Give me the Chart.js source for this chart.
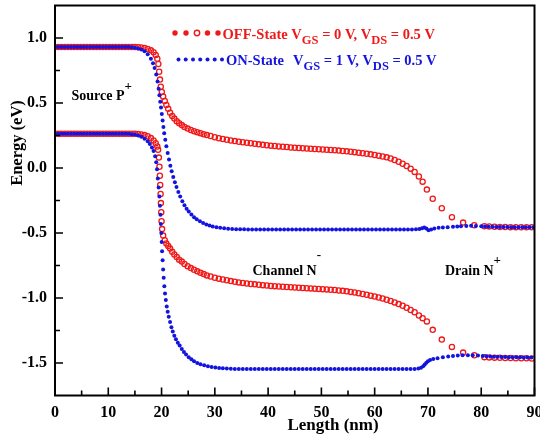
<!DOCTYPE html>
<html>
<head>
<meta charset="utf-8">
<script src="https://cdn.jsdelivr.net/npm/chart.js"></script>
<style>
  html, body { margin: 0; padding: 0; background: #fff; }
  #chart { display: block; }
</style>
</head>
<body>
<canvas id="chart" width="540" height="444"></canvas>
<script>
// [length (nm), energy (eV)]
const offCbPts = [
  [0,0.93],[0.6,0.93],[1.2,0.93],[1.8,0.93],[2.4,0.93],[3,0.93],[3.6,0.93],[4.2,0.93],[4.8,0.93],[5.4,0.93],
  [6,0.93],[6.6,0.93],[7.2,0.93],[7.8,0.93],[8.4,0.93],[9,0.93],[9.6,0.93],[10.2,0.93],[10.8,0.93],[11.4,0.93],
  [12,0.93],[12.6,0.93],[13.2,0.93],[13.8,0.93],[14.4,0.93],[15,0.93],[15.6,0.929],[16.2,0.927],[16.8,0.923],[17.4,0.916],[18,0.905],
  [18.5,0.89],[18.9,0.87],[19.2,0.84],[19.4,0.8],[19.55,0.74],[19.7,0.68],[19.85,0.625],[20.05,0.585],[20.3,0.55],[20.6,0.515],
  [20.9,0.485],[21.25,0.455],[21.6,0.425],[22,0.4],[22.4,0.38],[22.85,0.36],[23.3,0.345],[23.8,0.33],[24.3,0.316],[24.9,0.303],
  [25.5,0.292],[26.1,0.283],[26.7,0.275],[27.3,0.267],[27.9,0.26],[28.5,0.253],[29.2,0.246],
  [30,0.236],[30.75,0.229],[31.5,0.223],[32.25,0.217],[33,0.212],[33.75,0.207],[34.5,0.202],[35.25,0.198],[36,0.194],[36.75,0.19],
  [37.5,0.186],[38.25,0.182],[39,0.178],[39.75,0.175],[40.5,0.172],[41.25,0.169],[42,0.166],[42.75,0.163],[43.5,0.161],[44.25,0.158],
  [45,0.156],[45.75,0.154],[46.5,0.152],[47.25,0.15],[48,0.148],[48.75,0.146],[49.5,0.144],[50.25,0.142],[51,0.14],[51.75,0.138],
  [52.5,0.136],[53.25,0.134],[54,0.131],[54.75,0.128],[55.5,0.125],[56.25,0.122],[57,0.118],[57.75,0.114],[58.5,0.11],[59.25,0.105],
  [60,0.1],[60.75,0.095],[61.5,0.089],[62.25,0.082],[63,0.073],[63.75,0.062],[64.5,0.048],[65.25,0.033],[66,0.015],[66.75,-0.005],
  [67.5,-0.03],[68.3,-0.065],[69,-0.105],[69.8,-0.166],[70.9,-0.237],[72.6,-0.31],[74.5,-0.378],[76.6,-0.42],[78.7,-0.44],[80.6,-0.448],
  [81.5,-0.45],[82.5,-0.452],[83.5,-0.453],[84.5,-0.454],[85.5,-0.455],[86.5,-0.455],[87.5,-0.456],[88.5,-0.456],[89.5,-0.456]
];
const offVbPts = [
  [0,0.263],[0.6,0.263],[1.2,0.263],[1.8,0.263],[2.4,0.263],[3,0.263],[3.6,0.263],[4.2,0.263],[4.8,0.263],[5.4,0.263],
  [6,0.263],[6.6,0.263],[7.2,0.263],[7.8,0.263],[8.4,0.263],[9,0.263],[9.6,0.263],[10.2,0.263],[10.8,0.263],[11.4,0.263],
  [12,0.263],[12.6,0.263],[13.2,0.263],[13.8,0.263],[14.4,0.263],[15,0.263],[15.6,0.261],[16.2,0.258],[16.8,0.253],[17.4,0.244],[18,0.23],
  [18.5,0.212],[18.9,0.19],[19.2,0.165],[19.35,0.14],[19.5,0.08],[19.6,0.01],[19.68,-0.06],[19.75,-0.13],[19.82,-0.2],[19.88,-0.27],
  [19.94,-0.34],[20,-0.41],[20.1,-0.47],[20.3,-0.52],[20.6,-0.555],[20.9,-0.58],[21.25,-0.6],[21.6,-0.62],[22,-0.645],[22.4,-0.665],
  [22.85,-0.685],[23.3,-0.705],[23.8,-0.72],[24.3,-0.738],[24.9,-0.755],[25.5,-0.77],[26.1,-0.783],[26.7,-0.795],[27.3,-0.806],[27.9,-0.816],
  [28.5,-0.826],[29.2,-0.835],
  [30,-0.844],[30.75,-0.851],[31.5,-0.858],[32.25,-0.864],[33,-0.87],[33.75,-0.875],[34.5,-0.88],[35.25,-0.884],[36,-0.888],[36.75,-0.892],
  [37.5,-0.895],[38.25,-0.898],[39,-0.901],[39.75,-0.904],[40.5,-0.907],[41.25,-0.909],[42,-0.911],[42.75,-0.913],[43.5,-0.915],[44.25,-0.917],
  [45,-0.919],[45.75,-0.921],[46.5,-0.923],[47.25,-0.925],[48,-0.926],[48.75,-0.928],[49.5,-0.93],[50.25,-0.932],[51,-0.934],[51.75,-0.936],
  [52.5,-0.939],[53.25,-0.942],[54,-0.945],[54.75,-0.949],[55.5,-0.953],[56.25,-0.958],[57,-0.963],[57.75,-0.969],[58.5,-0.975],[59.25,-0.982],
  [60,-0.989],[60.75,-0.996],[61.5,-1.004],[62.25,-1.013],[63,-1.023],[63.75,-1.034],[64.5,-1.047],[65.25,-1.06],[66,-1.075],[66.75,-1.092],
  [67.5,-1.11],[68.3,-1.135],[69,-1.155],[69.8,-1.18],[70.9,-1.245],[72.6,-1.32],[74.5,-1.376],[76.6,-1.42],[78.7,-1.44],[80.6,-1.455],
  [81.5,-1.457],[82.5,-1.459],[83.5,-1.46],[84.5,-1.461],[85.5,-1.462],[86.5,-1.463],[87.5,-1.464],[88.5,-1.464],[89.5,-1.465]
];
const onCbPts = [
  [0,0.93],[0.6,0.93],[1.2,0.93],[1.8,0.93],[2.4,0.93],[3,0.93],[3.6,0.93],[4.2,0.93],[4.8,0.93],[5.4,0.93],
  [6,0.93],[6.6,0.93],[7.2,0.93],[7.8,0.93],[8.4,0.93],[9,0.93],[9.6,0.93],[10.2,0.93],[10.8,0.93],[11.4,0.93],
  [12,0.93],[12.6,0.93],[13.2,0.93],[13.8,0.93],[14.4,0.928],[15,0.925],[15.6,0.92],[16.2,0.912],[16.8,0.898],[17.4,0.875],
  [18,0.84],[18.4,0.805],[18.7,0.77],[19,0.72],[19.25,0.665],[19.45,0.61],[19.6,0.56],[19.75,0.51],[19.9,0.465],[20.05,0.415],
  [20.2,0.365],[20.35,0.315],[20.5,0.268],[20.7,0.218],[20.9,0.168],[21.15,0.115],[21.4,0.065],[21.65,0.018],[21.9,-0.025],[22.2,-0.07],
  [22.5,-0.11],[22.8,-0.147],[23.15,-0.185],[23.5,-0.22],[23.9,-0.255],[24.3,-0.287],[24.7,-0.313],[25.1,-0.335],[25.6,-0.358],[26.1,-0.378],
  [26.6,-0.395],[27.2,-0.41],[27.8,-0.423],[28.4,-0.434],[29,-0.443],[29.6,-0.45],[30.3,-0.456],[31,-0.46],[31.75,-0.464],[32.5,-0.467],
  [33.25,-0.469],[34,-0.471],[34.75,-0.472],[35.5,-0.472],[36.25,-0.473],[37,-0.473],[37.75,-0.473],[38.5,-0.473],[39.25,-0.473],[40,-0.473],
  [40.75,-0.473],[41.5,-0.473],[42.25,-0.473],[43,-0.473],[43.75,-0.473],[44.5,-0.473],[45.25,-0.473],[46,-0.473],[46.75,-0.473],[47.5,-0.473],
  [48.25,-0.473],[49,-0.473],[49.75,-0.473],[50.5,-0.473],[51.25,-0.473],[52,-0.473],[52.75,-0.473],[53.5,-0.473],[54.25,-0.473],[55,-0.473],
  [55.75,-0.473],[56.5,-0.473],[57.25,-0.473],[58,-0.473],[58.75,-0.473],[59.5,-0.473],[60.25,-0.473],[61,-0.473],[61.75,-0.473],[62.5,-0.473],
  [63.25,-0.473],[64,-0.473],[64.75,-0.473],[65.5,-0.473],[66.25,-0.473],[67,-0.473],[67.75,-0.472],[68.4,-0.47],[68.9,-0.463],[69.3,-0.458],
  [69.7,-0.466],[70.1,-0.478],[70.6,-0.473],[71.2,-0.466],[72,-0.46],[72.8,-0.457],[73.7,-0.455],[74.7,-0.452],[75.5,-0.45],[76.2,-0.448],
  [77.2,-0.446],[78.1,-0.445],[79,-0.446],[80,-0.448],[80.7,-0.45],[81.4,-0.451],[82.1,-0.452],[82.8,-0.453],[83.5,-0.453],[84.2,-0.454],
  [84.9,-0.454],[85.6,-0.455],[86.3,-0.455],[87,-0.455],[87.7,-0.456],[88.4,-0.456],[89.1,-0.456],[89.8,-0.456]
];
const onVbPts = [
  [0,0.263],[0.6,0.263],[1.2,0.263],[1.8,0.263],[2.4,0.263],[3,0.263],[3.6,0.263],[4.2,0.263],[4.8,0.263],[5.4,0.263],
  [6,0.263],[6.6,0.263],[7.2,0.263],[7.8,0.263],[8.4,0.263],[9,0.263],[9.6,0.263],[10.2,0.263],[10.8,0.263],[11.4,0.263],
  [12,0.263],[12.6,0.263],[13.2,0.263],[13.8,0.263],[14.4,0.26],[15,0.257],[15.6,0.25],[16.2,0.24],[16.8,0.225],[17.4,0.205],
  [17.8,0.185],[18.2,0.158],[18.5,0.13],[18.8,0.09],[19,0.045],[19.15,-0.01],[19.3,-0.08],[19.45,-0.15],[19.6,-0.22],[19.7,-0.29],
  [19.8,-0.36],[19.87,-0.43],[19.95,-0.5],[20.02,-0.57],[20.1,-0.64],[20.2,-0.71],[20.3,-0.78],[20.4,-0.845],[20.52,-0.91],[20.65,-0.965],
  [20.8,-1.015],[20.97,-1.065],[21.15,-1.105],[21.35,-1.145],[21.6,-1.185],[21.85,-1.225],[22.1,-1.258],[22.4,-1.29],[22.7,-1.318],[23.05,-1.344],
  [23.4,-1.366],[23.8,-1.392],[24.2,-1.415],[24.6,-1.435],[25.1,-1.455],[25.6,-1.472],[26.1,-1.487],[26.7,-1.5],[27.3,-1.51],[28,-1.518],
  [28.7,-1.525],[29.4,-1.531],[30.1,-1.535],[30.8,-1.538],[31.5,-1.541],[32.25,-1.543],[33,-1.545],[33.75,-1.546],[34.5,-1.546],[35.25,-1.546],
  [36,-1.546],[36.75,-1.546],[37.5,-1.546],[38.25,-1.546],[39,-1.546],[39.75,-1.546],[40.5,-1.546],[41.25,-1.546],[42,-1.546],[42.75,-1.546],
  [43.5,-1.546],[44.25,-1.546],[45,-1.546],[45.75,-1.546],[46.5,-1.546],[47.25,-1.546],[48,-1.546],[48.75,-1.546],[49.5,-1.546],[50.25,-1.546],
  [51,-1.546],[51.75,-1.546],[52.5,-1.546],[53.25,-1.546],[54,-1.546],[54.75,-1.546],[55.5,-1.546],[56.25,-1.546],[57,-1.546],[57.75,-1.546],
  [58.5,-1.546],[59.25,-1.546],[60,-1.546],[60.75,-1.546],[61.5,-1.546],[62.25,-1.546],[63,-1.546],[63.75,-1.546],[64.5,-1.546],[65.25,-1.546],
  [66,-1.546],[66.75,-1.546],[67.5,-1.546],[68.2,-1.543],[68.7,-1.537],[69.1,-1.525],[69.4,-1.512],[69.7,-1.498],[70,-1.486],[70.4,-1.477],
  [71,-1.47],[71.8,-1.463],[72.8,-1.456],[73.8,-1.45],[74.7,-1.446],[75.6,-1.443],[76.5,-1.441],[77.5,-1.44],[78.4,-1.44],[79.4,-1.443],
  [80.3,-1.447],[81,-1.449],[81.7,-1.45],[82.4,-1.451],[83.1,-1.452],[83.8,-1.453],[84.5,-1.454],[85.2,-1.455],[85.9,-1.455],[86.6,-1.456],
  [87.3,-1.456],[88,-1.457],[88.7,-1.457],[89.4,-1.457]
];

const xTicks = [0, 10, 20, 30, 40, 50, 60, 70, 80, 90];
const xMinor = [5, 15, 25, 35, 45, 55, 65, 75, 85];
const yTicks = [-1.5, -1.0, -0.5, 0.0, 0.5, 1.0];
const yMinor = [-1.25, -0.75, -0.25, 0.25, 0.75];

const RED = '#f01818';
const BLUE = '#1414e0';
const SERIF = '"Liberation Serif", "Times New Roman", serif';
const MAIN = 'bold 14.5px ' + SERIF;
const SUB = 'bold 12.5px ' + SERIF;

const toXY = pts => pts.map(p => ({ x: p[0], y: p[1] }));

// draws a run of text pieces, each with its own font and vertical shift
function runText(ctx, x, y, parts) {
    parts.forEach(p => {
        ctx.font = p[1];
        ctx.fillText(p[0], x, y + (p[2] || 0));
        x += ctx.measureText(p[0]).width;
    });
    return x;
}

const framePlugin = {
    id: 'frame',
    afterDraw(chart) {
        const { ctx, chartArea: a, scales: { x, y } } = chart;
        ctx.save();
        ctx.strokeStyle = '#000';
        ctx.lineWidth = 1.6;
        ctx.beginPath();
        xTicks.forEach(v => { const p = x.getPixelForValue(v); ctx.moveTo(p, a.bottom); ctx.lineTo(p, a.bottom - 8); });
        xMinor.forEach(v => { const p = x.getPixelForValue(v); ctx.moveTo(p, a.bottom); ctx.lineTo(p, a.bottom - 5); });
        yTicks.forEach(v => { const p = y.getPixelForValue(v); ctx.moveTo(a.left, p); ctx.lineTo(a.left + 8, p); });
        yMinor.forEach(v => { const p = y.getPixelForValue(v); ctx.moveTo(a.left, p); ctx.lineTo(a.left + 5, p); });
        ctx.stroke();
        ctx.lineWidth = 2;
        ctx.strokeRect(a.left, a.top, a.right - a.left, a.bottom - a.top);

        // axis titles
        ctx.fillStyle = '#000';
        ctx.textBaseline = 'alphabetic';
        ctx.textAlign = 'center';
        ctx.font = 'bold 17px ' + SERIF;
        ctx.fillText('Length (nm)', 333, 429.5);
        ctx.save();
        ctx.translate(21.5, 143);
        ctx.rotate(-Math.PI / 2);
        ctx.font = 'bold 16.5px ' + SERIF;
        ctx.fillText('Energy (eV)', 0, 0);
        ctx.restore();

        // region labels
        ctx.textAlign = 'left';
        const lab = 'bold 14px ' + SERIF;
        const sup = 'bold 13px ' + SERIF;
        runText(ctx, 71.5, 100, [['Source P', lab], ['+', sup, -10]]);
        runText(ctx, 252.5, 275, [['Channel N', lab], ['-', sup, -16]]);
        runText(ctx, 445, 275, [['Drain N', lab], ['+', sup, -11]]);

        // legend
        ctx.fillStyle = RED;
        [175, 186, 197, 207.5, 218].forEach((cx, i) => {
            ctx.beginPath();
            ctx.arc(cx, 33, 2.7, 0, Math.PI * 2);
            if (i === 2) { ctx.strokeStyle = RED; ctx.lineWidth = 1.4; ctx.stroke(); }
            else ctx.fill();
        });
        runText(ctx, 222.5, 38.5, [['OFF-State V', MAIN], ['GS', SUB, 5], [' = 0 V, V', MAIN], ['DS', SUB, 5], [' = 0.5 V', MAIN]]);

        ctx.fillStyle = BLUE;
        [178.5, 185.7, 193, 200.2, 207.5, 214.7, 222].forEach(cx => {
            ctx.beginPath();
            ctx.arc(cx, 59.5, 2, 0, Math.PI * 2);
            ctx.fill();
        });
        runText(ctx, 226, 65, [['ON-State', MAIN]]);
        runText(ctx, 293, 65, [['V', MAIN], ['GS', SUB, 5], [' = 1 V, V', MAIN], ['DS', SUB, 5], [' = 0.5 V', MAIN]]);
        ctx.restore();
    }
};

const tickFont = { family: SERIF, size: 16, weight: 'bold' };
const noPad = axis => { axis.paddingLeft = 0; axis.paddingRight = 0; axis.paddingTop = 0; axis.paddingBottom = 0; };

new Chart(document.getElementById('chart'), {
    type: 'scatter',
    data: {
        datasets: [
            { label: 'ON-State CB', data: toXY(onCbPts), order: 1, pointRadius: 2, pointBorderWidth: 0, pointBackgroundColor: BLUE, pointBorderColor: BLUE },
            { label: 'ON-State VB', data: toXY(onVbPts), order: 1, pointRadius: 2, pointBorderWidth: 0, pointBackgroundColor: BLUE, pointBorderColor: BLUE },
            { label: 'OFF-State CB', data: toXY(offCbPts), order: 2, pointRadius: 2.6, pointBorderWidth: 1.3, pointBackgroundColor: 'rgba(255,255,255,0)', pointBorderColor: RED },
            { label: 'OFF-State VB', data: toXY(offVbPts), order: 2, pointRadius: 2.6, pointBorderWidth: 1.3, pointBackgroundColor: 'rgba(255,255,255,0)', pointBorderColor: RED }
        ]
    },
    options: {
        responsive: false,
        animation: false,
        events: [],
        layout: { autoPadding: false, padding: { left: 0, top: 5.5, right: 5.5, bottom: 0 } },
        plugins: { legend: { display: false }, tooltip: { enabled: false } },
        scales: {
            x: {
                type: 'linear', min: 0, max: 90,
                grid: { display: false, drawTicks: false },
                border: { display: false },
                afterBuildTicks: axis => { axis.ticks = xTicks.map(v => ({ value: v })); },
                afterFit: axis => { axis.height = 48.5; noPad(axis); },
                ticks: { font: tickFont, color: '#000', padding: 8, maxRotation: 0, callback: v => String(v) }
            },
            y: {
                type: 'linear', min: -1.75, max: 1.25,
                grid: { display: false, drawTicks: false },
                border: { display: false },
                afterBuildTicks: axis => { axis.ticks = yTicks.map(v => ({ value: v })); },
                afterFit: axis => { axis.width = 55; noPad(axis); },
                ticks: { font: tickFont, color: '#000', padding: 8, callback: v => v.toFixed(1) }
            }
        }
    },
    plugins: [framePlugin]
});
</script>
</body>
</html>
